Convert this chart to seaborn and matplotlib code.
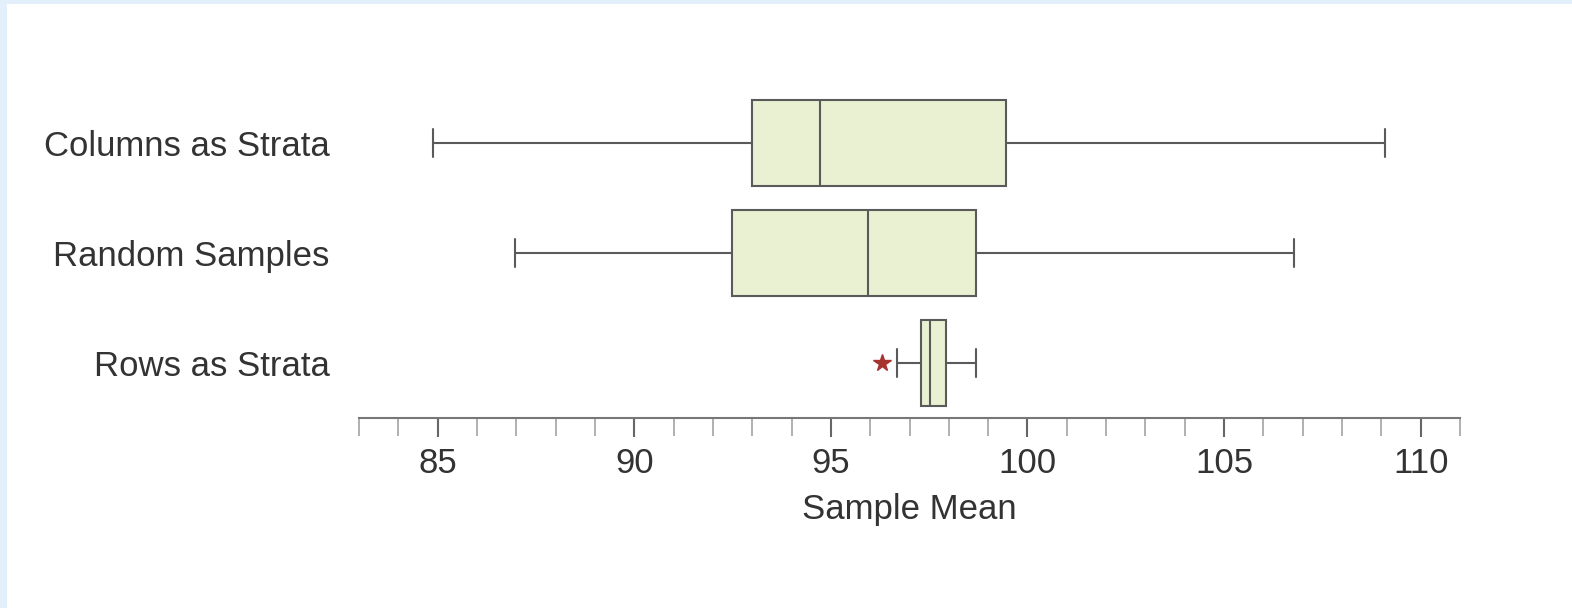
import numpy as np
import pandas as pd
import matplotlib
matplotlib.use('Agg')
import matplotlib.pyplot as plt
from matplotlib.patches import Rectangle
from matplotlib.ticker import MultipleLocator
import seaborn as sns

# --- DADOS (médias amostrais) ---
metodos = ['Columns as Strata', 'Random Samples', 'Rows as Strata']
columns_strata = [84.87, 92.99, 94.72, 99.46, 109.08]
random_samples = [86.96, 92.48, 95.94, 98.69, 106.79]
rows_strata = [96.30, 96.68, 97.29, 97.29, 97.52, 97.93, 97.93, 98.69, 98.69]

dados = pd.DataFrame({
    'metodo': [metodos[0]] * len(columns_strata)
              + [metodos[1]] * len(random_samples)
              + [metodos[2]] * len(rows_strata),
    'media': columns_strata + random_samples + rows_strata,
})

# --- ESTILO ---
sns.set_theme(style='white')
plt.rcParams['font.family'] = ['Liberation Sans', 'DejaVu Sans']

cor_caixa = '#e9f1d2'
cor_linha = '#5a5a5a'
cor_texto = '#333333'

fig = plt.figure(figsize=(15.72, 6.08), dpi=100, facecolor='white')
ax = fig.add_axes([359 / 1572, 1 - 418 / 608, 1101 / 1572, 330 / 608])

sns.boxplot(
    data=dados, x='media', y='metodo', order=metodos, orient='h',
    whis=1.5, width=0.78, color=cor_caixa, saturation=1,
    linecolor=cor_linha, linewidth=1.5, fliersize=13,
    flierprops=dict(marker='*', markerfacecolor='#a8322d',
                    markeredgecolor='#a8322d'),
    capwidths=0.26, ax=ax,
)

ax.set_xlim(83, 111)
ax.set_ylim(2.5, -0.5)
ax.xaxis.set_major_locator(MultipleLocator(5))
ax.xaxis.set_minor_locator(MultipleLocator(1))
ax.tick_params(axis='x', which='major', length=14, width=1.5, color='#666666',
               labelsize=25, labelcolor=cor_texto, pad=7, bottom=True)
ax.tick_params(axis='x', which='minor', length=13, width=1.3, color='#aaaaaa',
               bottom=True)
ax.tick_params(axis='y', length=0, labelsize=25, labelcolor=cor_texto, pad=21)

for lado in ['top', 'right', 'left']:
    ax.spines[lado].set_visible(False)
ax.spines['bottom'].set_color('#777777')
ax.spines['bottom'].set_linewidth(1.5)

ax.set_xlabel('Sample Mean', fontsize=25, color=cor_texto, labelpad=9)
ax.set_ylabel('')

# moldura azul clara (topo e lado esquerdo)
fig.patches.append(Rectangle((0, 1 - 4 / 608), 1, 4 / 608, transform=fig.transFigure,
                             facecolor='#e4effc', edgecolor='none'))
fig.patches.append(Rectangle((0, 0), 7 / 1572, 1, transform=fig.transFigure,
                             facecolor='#e4effc', edgecolor='none'))

plt.savefig('out.png', dpi=100, facecolor='white')
plt.close()
